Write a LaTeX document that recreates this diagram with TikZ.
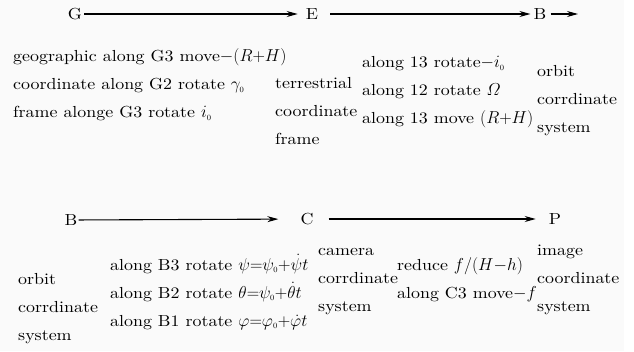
\documentclass[tikz,border=0pt]{standalone}
\usepackage{amsmath}
\usepackage{fontspec}
\setmainfont{lmroman10-regular.otf}[FakeStretch=1.12]
\usetikzlibrary{arrows.meta}
\begin{document}
\begin{tikzpicture}[x=1pt,y=-1pt,
  every node/.style={inner sep=1pt,font=\fontsize{16}{28}\selectfont},
  lbl/.style={anchor=center},
  blk/.style={anchor=west,align=left,inner sep=0pt},
  conn/.style={line width=1.1pt,-{Stealth[length=11pt,width=6pt]}}]
\useasboundingbox (0,0) rectangle (634,351);
\fill[black!2] (0,0) rectangle (624,351);
% row 1
\node[lbl] (G) at (75,14) {G};
\node[lbl] (E) at (312,14) {E};
\node[lbl] (B1) at (540,14) {B};
\coordinate (Bx) at (578,14);
\draw[conn,shorten <=1pt,shorten >=7pt] (G) -- (E);
\draw[conn,shorten <=11pt,shorten >=2pt] (E) -- (B1);
\draw[conn,shorten <=3pt] (B1) -- (Bx);
\node[blk] (t1) at (13,85) {geographic along G3 move$-(R{+}H)$\\coordinate along G2 rotate $\gamma_{\scriptscriptstyle 0}$\\frame alonge G3 rotate $i_{\scriptscriptstyle 0}$};
\node[blk] (t2) at (275,111) {terrestrial\\coordinate\\frame};
\node[blk] (t3) at (362,92) {along 13 rotate$-i_{\scriptscriptstyle 0}$\\along 12 rotate $\varOmega$\\along 13 move $(R{+}H)$};
\node[blk] (t4) at (537,101) {orbit\\corrdinate\\system};
% row 2
\node[lbl] (B2) at (71,220) {B};
\node[lbl] (C) at (307,219) {C};
\node[lbl] (P) at (555,219) {P};
\draw[conn,shorten >=21pt] (B2) -- (C);
\draw[conn,shorten <=14pt,shorten >=12pt] (C) -- (P);
\node[blk] (u1) at (18,309) {orbit\\corrdinate\\system};
\node[blk] (u2) at (110,292) {along B3 rotate $\psi{=}\psi_{\scriptscriptstyle 0}{+}\dot{\psi}t$\\along B2 rotate $\theta{=}\psi_{\scriptscriptstyle 0}{+}\dot{\theta}t$\\along B1 rotate $\varphi{=}\varphi_{\scriptscriptstyle 0}{+}\dot{\varphi}t$};
\node[blk] (u3) at (318,282) {camera\\corrdinate\\system};
\node[blk] (u4) at (397,280) {reduce $f/(H{-}h)$\\along C3 move$-f$};
\node[blk] (u5) at (537,280) {image\\coordinate\\system};
\end{tikzpicture}
\end{document}
